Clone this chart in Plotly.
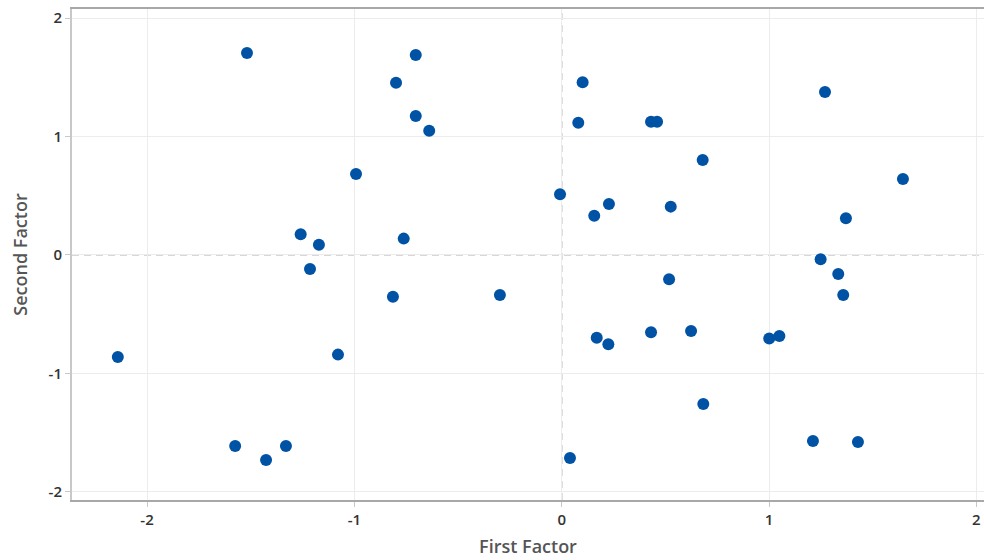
import plotly.graph_objects as go

first_factor = [-2.141, -1.518, -1.575, -1.426, -1.330, -1.259, -1.171, -1.214, -1.079, -0.992,
                -0.799, -0.704, -0.704, -0.639, -0.762, -0.814, -0.298, -0.008, 0.101, 0.080,
                0.040, 0.157, 0.228, 0.169, 0.225, 0.431, 0.431, 0.460, 0.526, 0.518,
                0.624, 0.680, 0.683, 1.001, 1.050, 1.212, 1.270, 1.249, 1.334, 1.371,
                1.358, 1.429, 1.646]
second_factor = [-0.861, 1.705, -1.612, -1.730, -1.612, 0.175, 0.087, -0.118, -0.841, 0.684,
                 1.454, 1.688, 1.173, 1.049, 0.138, -0.352, -0.338, 0.512, 1.457, 1.116,
                 -1.713, 0.332, 0.430, -0.698, -0.754, -0.652, 1.125, 1.125, 0.408, -0.205,
                 -0.641, 0.802, -1.257, -0.705, -0.684, -1.570, 1.376, -0.036, -0.160, 0.310,
                 -0.338, -1.578, 0.641]
tick_vals = [-2, -1, 0, 1, 2]

fig = go.Figure()
fig.add_trace(go.Scatter(
    x=first_factor, y=second_factor, mode="markers",
    marker=dict(color="#0052A5", size=12, line=dict(width=0)),
    showlegend=False,
))

fig.add_hline(y=0, line=dict(color="#b0b0b0", width=1.3, dash="7px,5px"), layer="below")
fig.add_vline(x=0, line=dict(color="#a0a0a0", width=1.3, dash="7px,5px"), layer="below")

font_family = "Open Sans, DejaVu Sans, sans-serif"
fig.update_layout(
    width=984, height=560,
    margin=dict(l=72, r=0, t=9, b=60),
    paper_bgcolor="white", plot_bgcolor="white",
    font=dict(family=font_family, color="#333333"),
    xaxis=dict(
        range=[-2.362, 2.037], tickvals=tick_vals, ticktext=[str(v) for v in tick_vals],
        showgrid=True, gridcolor="#ececec", gridwidth=1, zeroline=False,
        showline=True, linecolor="#a8a8a8", linewidth=2, mirror=True,
        ticks="outside", ticklen=5, tickcolor="#c8c8c8",
        tickfont=dict(size=15, color="#333333", weight=600),
        title=dict(text="First Factor", font=dict(size=18, color="#555555", weight=600), standoff=12),
    ),
    yaxis=dict(
        range=[-2.068, 2.076], tickvals=tick_vals, ticktext=[str(v) for v in tick_vals],
        showgrid=True, gridcolor="#ececec", gridwidth=1, zeroline=False,
        showline=True, linecolor="#c8c8c8", linewidth=2,
        ticks="outside", ticklen=5, tickcolor="#c8c8c8",
        tickfont=dict(size=15, color="#333333", weight=600),
        title=dict(text="Second Factor", font=dict(size=18, color="#555555", weight=600), standoff=16),
    ),
)

fig.write_html("out.html")
